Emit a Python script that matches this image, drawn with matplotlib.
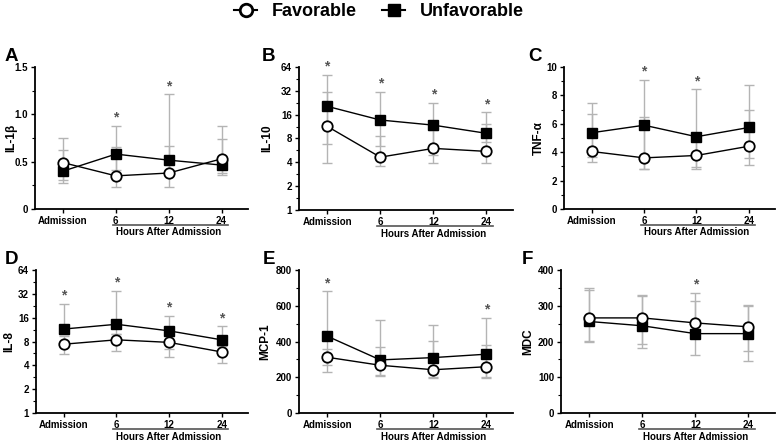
import numpy as np
import matplotlib
matplotlib.use('Agg')
from matplotlib import pyplot as plt
from matplotlib.lines import Line2D
from matplotlib.ticker import MultipleLocator, FixedLocator, NullFormatter

plt.rcParams['font.family'] = ['Liberation Sans', 'DejaVu Sans']
plt.rcParams['font.weight'] = 'bold'

times = ['Admission', '6', '12', '24']

# IL-1b
a_fav = [0.49, 0.35, 0.38, 0.53]
a_fav_lo = [0.27, 0.235, 0.235, 0.383]
a_fav_hi = [0.75, 0.657, 0.67, 0.738]
a_unf = [0.40, 0.58, 0.516, 0.464]
a_unf_lo = [0.306, 0.41, 0.40, 0.358]
a_unf_hi = [0.62, 0.875, 1.21, 0.875]
a_star = [1, 2]

# IL-10
b_fav = [11.4, 4.65, 6.0, 5.5]
b_fav_lo = [3.9, 3.6, 3.9, 3.9]
b_fav_hi = [31, 8.6, 10.1, 12.3]
b_unf = [20.4, 13.7, 11.8, 9.3]
b_unf_lo = [6.9, 6.5, 4.9, 7.3]
b_unf_hi = [51, 30.7, 22.5, 17.1]
b_star = [0, 1, 2, 3]

# TNF-a
c_fav = [4.05, 3.6, 3.77, 4.42]
c_fav_lo = [3.28, 2.81, 2.81, 3.09]
c_fav_hi = [6.7, 6.49, 5.0, 6.95]
c_unf = [5.37, 5.9, 5.09, 5.74]
c_unf_lo = [3.67, 2.81, 2.98, 3.6]
c_unf_hi = [7.44, 9.09, 8.42, 8.74]
c_star = [1, 2]

# IL-8
d_fav = [7.4, 8.4, 7.8, 5.9]
d_fav_lo = [5.6, 6.0, 5.1, 4.3]
d_fav_hi = [9.5, 10.0, 9.4, 7.0]
d_unf = [11.5, 13.2, 10.9, 8.4]
d_unf_lo = [10.0, 10.0, 6.5, 7.5]
d_unf_hi = [23.6, 34.7, 17.0, 12.4]
d_star = [0, 1, 2, 3]

# MCP-1
e_fav = [312, 267, 242, 259]
e_fav_lo = [227, 205, 200, 195]
e_fav_hi = [360, 372, 404, 379]
e_unf = [430, 297, 310, 329]
e_unf_lo = [268, 214, 195, 203]
e_unf_hi = [680, 522, 492, 531]
e_star = [0, 3]

# MDC
f_fav = [266, 266, 252, 241]
f_fav_lo = [202, 193, 220, 174]
f_fav_hi = [350, 329, 313, 302]
f_unf = [256, 244, 222, 222]
f_unf_lo = [200, 181, 163, 145]
f_unf_hi = [343, 326, 337, 299]
f_star = [2]

panels = [
    ('A', 'IL-1β', a_fav, a_fav_lo, a_fav_hi, a_unf, a_unf_lo, a_unf_hi, a_star, 'lin', (0, 1.5), 0.5, 0.25),
    ('B', 'IL-10', b_fav, b_fav_lo, b_fav_hi, b_unf, b_unf_lo, b_unf_hi, b_star, 'log', (1, 64), None, None),
    ('C', 'TNF-α', c_fav, c_fav_lo, c_fav_hi, c_unf, c_unf_lo, c_unf_hi, c_star, 'lin', (0, 10), 2, 1),
    ('D', 'IL-8', d_fav, d_fav_lo, d_fav_hi, d_unf, d_unf_lo, d_unf_hi, d_star, 'log', (1, 64), None, None),
    ('E', 'MCP-1', e_fav, e_fav_lo, e_fav_hi, e_unf, e_unf_lo, e_unf_hi, e_star, 'lin', (0, 800), 200, 100),
    ('F', 'MDC', f_fav, f_fav_lo, f_fav_hi, f_unf, f_unf_lo, f_unf_hi, f_star, 'lin', (0, 400), 100, 50),
]

# axes boxes in pixels (left, right, top, bottom) of the 778x442 image, letter x, y-label centre x
W, H = 778, 442
boxes = [(35, 248, 67, 209), (299, 513, 67, 210), (564, 775, 67, 209),
         (36, 248, 270, 413), (299, 513, 270, 413), (561, 775, 270, 413)]
letter_x = [5, 262, 528, 5, 263, 522]
ylab_x = [12, 268, 540, 10, 266, 529]

fig = plt.figure(figsize=(7.78, 4.42), dpi=100)
x = np.arange(4)
ecol = '#b4b4b4'

for (letter, ylab, fav, flo, fhi, unf, ulo, uhi, stars, scale, ylim, maj, mnr), (l, r, t, b), lx, yx in zip(panels, boxes, letter_x, ylab_x):
    ax = fig.add_axes([l / W, 1 - b / H, (r - l) / W, (b - t) / H])
    fav = np.array(fav); unf = np.array(unf)
    # error bars
    ax.errorbar(x, unf, yerr=[unf - np.array(ulo), np.array(uhi) - unf], fmt='none',
                ecolor=ecol, elinewidth=1, capsize=3.5, capthick=1, zorder=1)
    ax.errorbar(x, fav, yerr=[fav - np.array(flo), np.array(fhi) - fav], fmt='none',
                ecolor=ecol, elinewidth=1, capsize=3.5, capthick=1, zorder=1)
    ax.plot(x, unf, color='black', lw=1, marker='s', ms=7, mfc='black', mec='black', zorder=3)
    ax.plot(x, fav, color='black', lw=1, marker='o', ms=7.5, mfc='white', mec='black', mew=1.3, zorder=4)

    # asterisks
    tops = np.maximum(fhi, uhi)
    for i in stars:
        ax.annotate('*', (x[i], tops[i]), xytext=(0, 1), textcoords='offset points',
                    ha='center', va='bottom', fontsize=10, color='#555555')

    ax.set_xlim(-0.53, 3.5)
    if scale == 'log':
        ax.set_yscale('log', base=2)
        ax.set_ylim(*ylim)
        ticks = [1, 2, 4, 8, 16, 32, 64]
        ax.yaxis.set_major_locator(FixedLocator(ticks))
        ax.set_yticklabels([str(v) for v in ticks])
        ax.yaxis.set_minor_locator(FixedLocator([v * np.sqrt(2) for v in ticks[:-1]]))
        ax.yaxis.set_minor_formatter(NullFormatter())
    else:
        ax.set_ylim(*ylim)
        ax.yaxis.set_major_locator(MultipleLocator(maj))
        ax.yaxis.set_minor_locator(MultipleLocator(mnr))
        if letter == 'A':
            ax.set_yticks([0, 0.5, 1.0, 1.5])
            ax.set_yticklabels(['0', '0.5', '1.0', '1.5'])
    ax.set_xticks(x)
    ax.set_xticklabels(times)
    for s in ['top', 'right']:
        ax.spines[s].set_visible(False)
    for s in ['left', 'bottom']:
        ax.spines[s].set_linewidth(1.3)
    ax.tick_params(axis='both', labelsize=7, width=1, length=3, pad=2)
    ax.tick_params(axis='y', which='minor', length=2, width=0.8)
    for lab in ax.get_xticklabels() + ax.get_yticklabels():
        lab.set_fontweight('bold')
    ax.set_ylabel(ylab, fontsize=8.5, fontweight='bold')
    ax.yaxis.set_label_coords((yx + 5 - l) / (r - l), 0.5)

    # "Hours After Admission" bracket
    ax.plot([0.94, 3.12], [-0.115, -0.115], transform=ax.get_xaxis_transform(),
            color='#555555', lw=1.2, clip_on=False)
    ax.text(2.0, -0.13, 'Hours After Admission', transform=ax.get_xaxis_transform(),
            ha='center', va='top', fontsize=7, fontweight='bold')

    fig.text(lx / W, 1 - (t - 19) / H, letter, fontsize=13.5, fontweight='bold',
             ha='left', va='top')

# legend at top
h1 = Line2D([], [], color='black', lw=1.5, marker='o', ms=9, mfc='white', mec='black', mew=2)
h2 = Line2D([], [], color='black', lw=1.5, marker='s', ms=9, mfc='black', mec='black')
fig.legend([h1, h2], ['Favorable', 'Unfavorable'], loc='upper center', bbox_to_anchor=(0.487, 1.03),
           ncol=2, frameon=False, prop={'size': 13, 'weight': 'bold'}, handlelength=1.3,
           columnspacing=1.4, handletextpad=0.8)

fig.savefig('out.png', dpi=100)
